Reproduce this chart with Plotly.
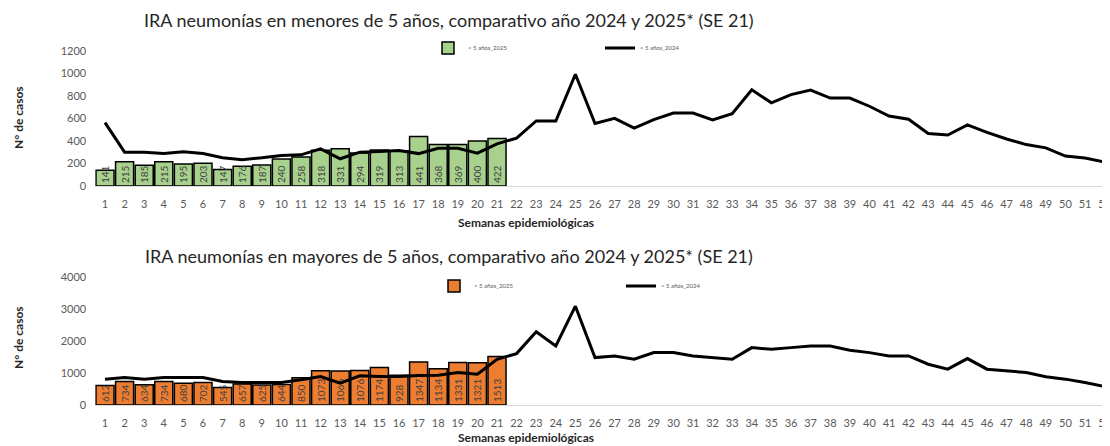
import plotly.graph_objects as go
from plotly.subplots import make_subplots

W, H = 1110, 446
OFF = 8  # page body margin

weeks = list(range(1, 53))

# < 5 años
menores_2025 = [141, 215, 185, 215, 195, 203, 147, 176, 187, 240, 258, 318, 331, 294,
                319, 313, 441, 368, 369, 400, 422]
menores_2024 = [563, 301, 301, 288, 305, 288, 251, 234, 251, 272, 277, 330, 242, 301,
                307, 315, 288, 336, 336, 292, 374, 426, 578, 578, 993, 555, 601, 514,
                590, 648, 648, 587, 642, 855, 739, 812, 853, 782, 782, 709, 622, 593,
                467, 453, 543, 476, 418, 368, 339, 266, 248, 213]

# > 5 años
mayores_2025 = [612, 734, 634, 734, 680, 702, 545, 657, 625, 644, 850, 1073, 1066, 1076,
                1174, 928, 1347, 1134, 1331, 1321, 1513]
mayores_2024 = [808, 860, 808, 860, 860, 860, 736, 705, 705, 705, 788, 891, 684, 912,
                891, 891, 922, 933, 1016, 964, 1430, 1606, 2290, 1845, 3088, 1482, 1534,
                1430, 1637, 1637, 1534, 1482, 1430, 1793, 1741, 1793, 1845, 1845, 1710,
                1637, 1534, 1534, 1275, 1119, 1451, 1119, 1067, 1016, 881, 808, 705, 580]

titulo_1 = "IRA neumonías en menores de 5 años, comparativo año 2024 y 2025* (SE 21)"
titulo_2 = "IRA neumonías en mayores de 5 años, comparativo año 2024 y 2025* (SE 21)"

FONT = "Lato"
GRAY = "#595959"


def px_x(x):
    return (x - OFF) / W


def px_y(y):
    return 1 - (y - OFF) / H


fig = make_subplots(rows=2, cols=1)

fig.add_trace(go.Bar(x=weeks[:len(menores_2025)], y=menores_2025, name="< 5 años_2025",
                     marker=dict(color="#a9d18e", line=dict(color="black", width=1.5)),
                     text=menores_2025, textposition="inside", insidetextanchor="start",
                     textangle=-90, constraintext="none", cliponaxis=False,
                     textfont=dict(family=FONT, size=10, color="#404040"),
                     legend="legend"), row=1, col=1)
fig.add_trace(go.Scatter(x=weeks, y=menores_2024, mode="lines", name="< 5 años_2024",
                         line=dict(color="black", width=3), legend="legend"), row=1, col=1)

fig.add_trace(go.Bar(x=weeks[:len(mayores_2025)], y=mayores_2025, name="> 5 años_2025",
                     marker=dict(color="#ed7d31", line=dict(color="black", width=1.5)),
                     text=mayores_2025, textposition="inside", insidetextanchor="start",
                     textangle=-90, constraintext="none", cliponaxis=False,
                     textfont=dict(family=FONT, size=10, color="#404040"),
                     legend="legend2"), row=2, col=1)
fig.add_trace(go.Scatter(x=weeks, y=mayores_2024, mode="lines", name="> 5 años_2024",
                         line=dict(color="black", width=3), legend="legend2"), row=2, col=1)

x_left = px_x(95.2)
xrange = [0.5, (W + OFF - 105) / 19.6 + 1]

axis_x = dict(range=xrange, tickmode="array", tickvals=weeks, showgrid=False,
              showline=True, linecolor="#d9d9d9", linewidth=1, zeroline=False,
              ticks="", ticklabelstandoff=8, automargin=False,
              tickfont=dict(family=FONT, size=11, color=GRAY))
axis_y = dict(showgrid=False, zeroline=False, showline=False, ticks="",
              ticklabelstandoff=8, automargin=False,
              tickfont=dict(family=FONT, size=11, color=GRAY))

fig.update_xaxes(axis_x, domain=[x_left, 1])
fig.update_yaxes(axis_y)
fig.update_yaxes(range=[0, 1200], dtick=200, domain=[px_y(186), px_y(51)], row=1, col=1)
fig.update_yaxes(range=[0, 4000], dtick=1000, domain=[px_y(405), px_y(277)], row=2, col=1)

leg = dict(orientation="h", xanchor="left", yanchor="middle", bgcolor="rgba(0,0,0,0)",
           font=dict(family=FONT, size=6, color=GRAY), itemwidth=30,
           entrywidthmode="pixels", traceorder="normal")

anns = []
for txt, y in [(titulo_1, 20), (titulo_2, 256)]:
    anns.append(dict(text=txt, x=px_x(449), y=px_y(y), xref="paper", yref="paper",
                     xanchor="center", yanchor="middle", showarrow=False,
                     font=dict(family=FONT, size=18, color="#262626")))
for y in [118, 338]:
    anns.append(dict(text="<b>N° de casos</b>", x=px_x(18), y=px_y(y), xref="paper",
                     yref="paper", xanchor="center", yanchor="middle",
                     showarrow=False, textangle=-90,
                     font=dict(family=FONT, size=12, color="#262626")))
for y in [222, 437]:
    anns.append(dict(text="<b>Semanas epidemiológicas</b>", x=px_x(526), y=px_y(y),
                     xref="paper", yref="paper", xanchor="center", yanchor="middle",
                     showarrow=False,
                     font=dict(family=FONT, size=12, color="#262626")))

fig.update_layout(
    width=W, height=H,
    margin=dict(l=0, r=0, t=0, b=0, autoexpand=False),
    paper_bgcolor="white", plot_bgcolor="white",
    barmode="overlay", bargap=0.08,
    showlegend=True,
    legend=dict(leg, x=px_x(428), y=px_y(48), entrywidth=127),
    legend2=dict(leg, x=px_x(434), y=px_y(286), entrywidth=142),
    annotations=anns,
    font=dict(family=FONT),
)

fig.write_html("out.html")
